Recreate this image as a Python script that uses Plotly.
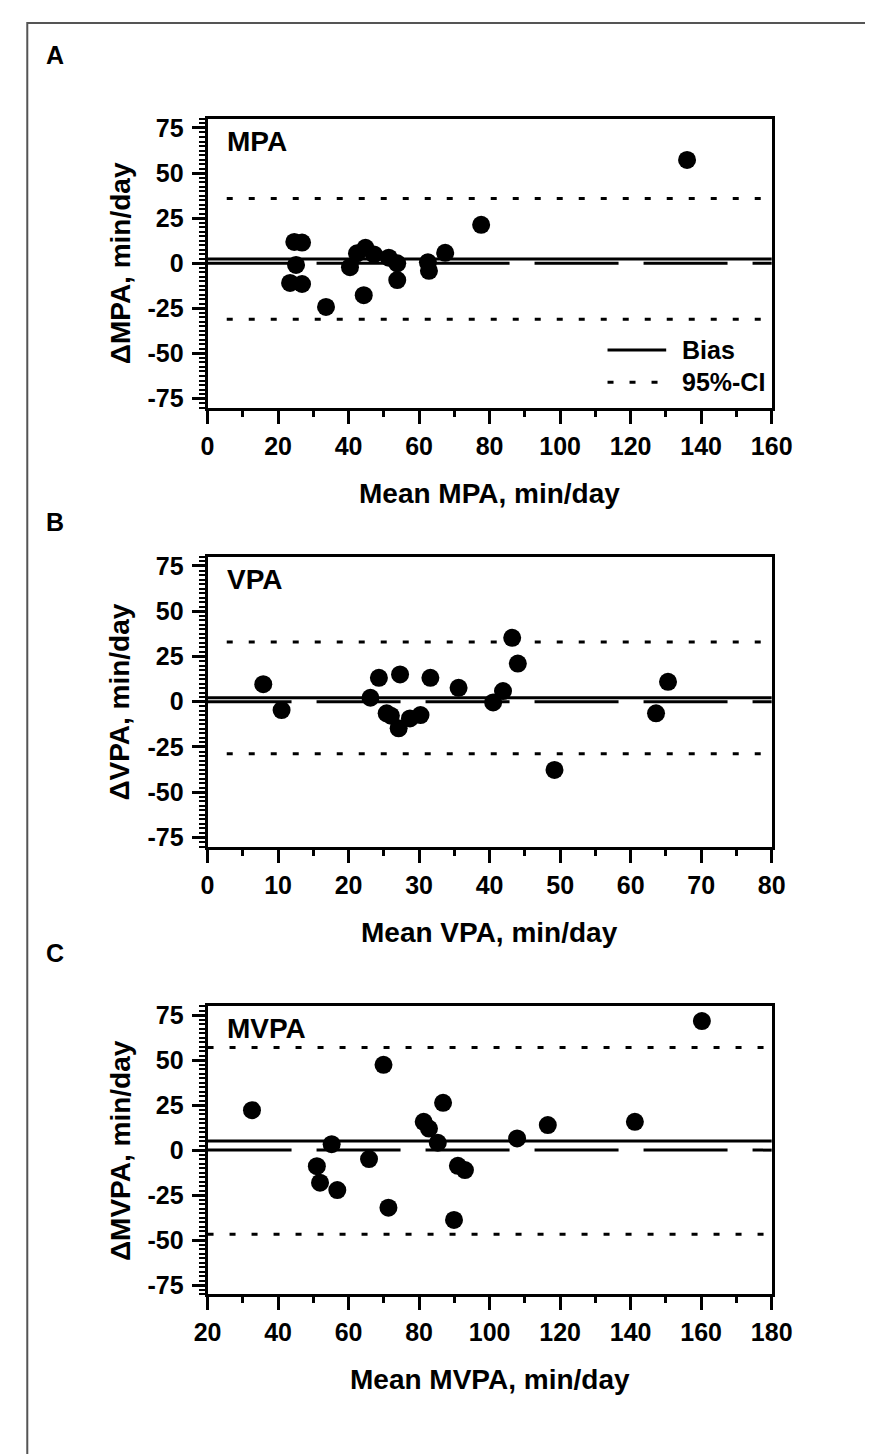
import plotly.graph_objects as go

# ---------------- data ----------------
panel_letters = ["A", "B", "C"]
panel_names = ["MPA", "VPA", "MVPA"]

mpa_mean = [23.4, 24.6, 25.1, 26.8, 26.8, 33.6, 40.4, 42.4, 44.3, 44.8, 47.2, 51.4, 53.8, 53.8, 62.5, 62.8, 67.4, 77.6, 136.0]
mpa_diff = [-10.9, 11.8, -0.9, 11.5, -11.5, -24.2, -2.2, 5.5, -17.7, 8.6, 4.9, 3.1, 0.0, -9.3, 0.5, -4.2, 5.8, 21.3, 57.3]

vpa_mean = [7.9, 10.5, 23.1, 24.3, 25.4, 26.0, 27.1, 27.3, 28.7, 30.2, 31.6, 35.6, 40.5, 41.9, 43.2, 44.0, 49.2, 63.6, 65.3]
vpa_diff = [9.7, -4.6, 2.2, 13.2, -6.4, -7.7, -14.7, 15.1, -9.2, -7.4, 13.2, 7.7, -0.4, 5.9, 35.3, 21.1, -37.7, -6.4, 11.0]

mvpa_mean = [32.6, 51.0, 51.9, 55.2, 56.8, 65.8, 69.9, 71.3, 81.3, 82.8, 85.3, 86.8, 89.9, 91.0, 93.0, 107.8, 116.5, 141.2, 160.2]
mvpa_diff = [22.2, -8.9, -18.1, 3.3, -22.2, -5.0, 47.4, -32.0, 15.7, 12.0, 4.1, 26.3, -38.8, -8.7, -11.1, 6.5, 13.9, 15.7, 71.7]

bias = [2.4, 2.2, 5.1]
ci_upper = [35.9, 33.0, 57.0]
ci_lower = [-31.1, -28.7, -46.8]

x_ranges = [[0, 160], [0, 80], [20, 180]]
x_major = [20, 10, 20]
x_minor = [10, 5, 10]
y_ticks = [75, 50, 25, 0, -25, -50, -75]
y_ticktext = ["75", "50", "25", "0", "-25", "-50", "-75"]
y_range = [-80, 80]

x_titles = ["Mean MPA, min/day", "Mean VPA, min/day", "Mean MVPA, min/day"]
y_titles = ["ΔMPA, min/day", "ΔVPA, min/day", "ΔMVPA, min/day"]
legend_labels = ["Bias", "95%-CI"]

means = [mpa_mean, vpa_mean, mvpa_mean]
diffs = [mpa_diff, vpa_diff, mvpa_diff]

# ---------------- layout geometry ----------------
W, H = 873, 1454
FONT = "Liberation Sans, Arial, sans-serif"
x_dom = [193.3 / W, 781 / W]
y_px = [(106.7, 397.3), (547.7, 839.3), (1000.0, 1290.0)]
y_doms = [[1 - b / H, 1 - t / H] for t, b in y_px]
letter_y = [42.5, 513, 947]
ci_start = [0.034, 0.034, 0.0]

fig = go.Figure()
shapes = []
annotations = []
layout = {}

for i in range(3):
    sfx = "" if i == 0 else str(i + 1)
    xa, ya = "x" + sfx, "y" + sfx
    fig.add_trace(go.Scatter(
        x=means[i], y=diffs[i], mode="markers", xaxis=xa, yaxis=ya,
        marker=dict(size=18, color="black", line=dict(width=0)),
        showlegend=False, hoverinfo="x+y"))

    lo, hi = x_ranges[i]
    xt = list(range(lo, hi + 1, x_major[i]))
    layout["xaxis" + sfx] = dict(
        domain=x_dom, anchor=ya, range=[lo, hi], showgrid=False, zeroline=False,
        showline=True, linecolor="black", linewidth=3, mirror=True,
        tickmode="array", tickvals=xt, ticktext=[str(v) for v in xt],
        ticks="outside", ticklen=13, tickwidth=3, tickcolor="black",
        ticklabelstandoff=1,
        tickfont=dict(family=FONT, size=25, color="black", weight="bold"),
        minor=dict(tickmode="linear", tick0=0, dtick=x_minor[i], ticks="outside",
                   ticklen=6, tickwidth=3, tickcolor="black", showgrid=False),
    )
    layout["yaxis" + sfx] = dict(
        domain=y_doms[i], anchor=xa, range=y_range, showgrid=False, zeroline=False,
        showline=True, linecolor="black", linewidth=3, mirror=True,
        tickmode="array", tickvals=y_ticks, ticktext=y_ticktext,
        ticks="outside", ticklen=13, tickwidth=3, tickcolor="black",
        ticklabelstandoff=3,
        tickfont=dict(family=FONT, size=25, color="black", weight="bold"),
        minor=dict(tickmode="linear", tick0=0, dtick=2.5, ticks="outside",
                   ticklen=6, tickwidth=2, tickcolor="black", showgrid=False),
    )

    xd, yd = xa + " domain", ya + " domain"
    # zero reference (long dashes)
    shapes.append(dict(type="line", xref=xd, yref=ya, x0=0, x1=1, y0=0, y1=0,
                       line=dict(color="black", width=3, dash="84px,25px"), layer="below"))
    # bias
    shapes.append(dict(type="line", xref=xd, yref=ya, x0=0, x1=1, y0=bias[i], y1=bias[i],
                       line=dict(color="black", width=3), layer="below"))
    # 95% limits
    for v in (ci_upper[i], ci_lower[i]):
        shapes.append(dict(type="line", xref=xd, yref=ya, x0=ci_start[i], x1=1, y0=v, y1=v,
                           line=dict(color="black", width=3, dash="6px,16px"), layer="below"))

    # inner label
    annotations.append(dict(text=panel_names[i], xref=xd, yref=yd, x=0.031, y=0.921,
                            xanchor="left", yanchor="middle", showarrow=False,
                            font=dict(family=FONT, size=28, color="black", weight="bold")))
    # axis titles
    annotations.append(dict(text=x_titles[i], xref=xd, yref=yd, x=0.5, y=-0.298,
                            xanchor="center", yanchor="middle", showarrow=False,
                            font=dict(family=FONT, size=28, color="black", weight="bold")))
    annotations.append(dict(text=y_titles[i], xref=xd, yref=yd, x=-0.1554, y=0.5,
                            xanchor="center", yanchor="middle", textangle=-90, showarrow=False,
                            font=dict(family=FONT, size=28, color="black", weight="bold")))
    # panel letter
    annotations.append(dict(text=panel_letters[i], xref="paper", yref="paper",
                            x=34 / W, y=1 - letter_y[i] / H, xanchor="center", yanchor="middle",
                            showarrow=False,
                            font=dict(family=FONT, size=25, color="black", weight="bold")))

# legend (panel A)
shapes.append(dict(type="line", xref="x domain", yref="y domain", x0=0.709, x1=0.813,
                   y0=0.1996, y1=0.1996, line=dict(color="black", width=3)))
shapes.append(dict(type="line", xref="x domain", yref="y domain", x0=0.709, x1=0.80,
                   y0=0.088, y1=0.088, line=dict(color="black", width=3, dash="6px,16px")))
for lab, yy in zip(legend_labels, [0.1996, 0.088]):
    annotations.append(dict(text=lab, xref="x domain", yref="y domain", x=0.8368, y=yy,
                            xanchor="left", yanchor="middle", showarrow=False,
                            font=dict(family=FONT, size=25, color="black", weight="bold")))

# outer frame
shapes.append(dict(type="rect", xref="paper", yref="paper", x0=5.5 / W, x1=1.05,
                   y0=-0.05, y1=1 - 10 / H, line=dict(color="#555555", width=2)))

fig.update_layout(
    width=W, height=H, autosize=False,
    margin=dict(l=0, r=0, t=0, b=0),
    paper_bgcolor="white", plot_bgcolor="white",
    showlegend=False, shapes=shapes, annotations=annotations,
    font=dict(family=FONT, color="black"),
    **layout,
)

fig.write_html("out.html")
